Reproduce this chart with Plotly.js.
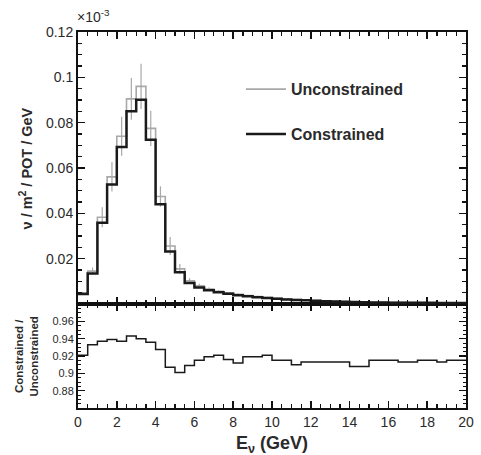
<!DOCTYPE html>
<html>
<head>
<meta charset="utf-8">
<script src="https://cdn.plot.ly/plotly-3.0.1.min.js"></script>
<style>html,body{margin:0;padding:0;background:#fff;}#chart{width:481px;height:455px;}</style>
</head>
<body>
<div id="chart"></div>
<script>
// ---- data ----
const binEdges = [0,0.5,1,1.5,2,2.5,3,3.5,4,4.5,5,5.5,6,6.5,7,7.5,8,8.5,9,9.5,10,
  10.5,11,11.5,12,12.5,13,13.5,14,14.5,15,15.5,16,16.5,17,17.5,18,18.5,19,19.5,20];
const constrained = [0.0044,0.0135,0.0359,0.0527,0.0693,0.0850,0.0901,0.0725,0.0440,0.0232,
  0.0140,0.0093,0.0073,0.0061,0.0052,0.0045,0.0039,0.0034,0.0030,0.0026,
  0.0023,0.0020,0.0018,0.0016,0.0014,0.0012,0.0011,0.0010,0.0009,0.0008,
  0.0007,0.0007,0.0006,0.0006,0.0005,0.0005,0.0005,0.0004,0.0004,0.0004];
const unconstrained = [0.0048,0.0145,0.0383,0.0561,0.0740,0.0905,0.0960,0.0775,0.0474,0.0256,
  0.0155,0.0102,0.0080,0.0066,0.0056,0.0049,0.0043,0.0037,0.0033,0.0028,
  0.0025,0.0022,0.0020,0.0017,0.0015,0.0013,0.0012,0.0011,0.0010,0.0009,
  0.0008,0.0008,0.0007,0.0007,0.0006,0.0006,0.0005,0.0005,0.0005,0.0004];
const unconstrainedErr = [0.0006,0.0016,0.0044,0.0065,0.0086,0.0092,0.0100,0.0078,0.0045,0.0040,
  0.0022,0.0012,0.0009,0.0007,0.0005,0.0004,0.0004,0.0003,0.0003,0.0003,
  0.0002,0.0002,0.0002,0.0002,0.0002,0.0002,0.0001,0.0001,0.0001,0.0001,
  0.0001,0.0001,0.0001,0.0001,0.0001,0.0001,0.0001,0.0001,0.0001,0.0001];
const ratioEdges = [0,0.5,1,1.5,2,2.5,3,3.5,4,4.5,5,5.5,6,6.5,7,7.5,8,8.5,9.5,10,11,11.5,14,15,16.5,17.5,18.5,19,20];
const ratio = [0.921,0.933,0.937,0.939,0.937,0.943,0.940,0.936,0.9275,0.907,
  0.901,0.909,0.915,0.919,0.921,0.916,0.912,0.919,0.921,0.915,
  0.910,0.913,0.908,0.915,0.913,0.915,0.913,0.915];
const xTicks = [0,2,4,6,8,10,12,14,16,18,20];
const yTopTicks = [0.02,0.04,0.06,0.08,0.1,0.12];
const yTopText = ['0.02','0.04','0.06','0.08','0.1','0.12'];
const yBotTicks = [0.88,0.9,0.92,0.94,0.96];
const yBotText = ['0.88','0.9','0.92','0.94','0.96'];

// ---- build step traces ----
function stepY(vals){ return vals.concat([vals[vals.length-1]]); }
const centers = constrained.map((_,i)=> (binEdges[i]+binEdges[i+1])/2);

const FONT = 'Liberation Sans, Arial, Helvetica, sans-serif';
const TXT = '#2a2a2a';

const traces = [
  {x: binEdges, y: stepY(unconstrained), xaxis:'x2', yaxis:'y', mode:'lines',
   line:{shape:'hv', color:'#a8a8a8', width:1.6}, name:'Unconstrained', legendgroup:'u'},
  {x: centers, y: unconstrained, xaxis:'x2', yaxis:'y', mode:'markers',
   marker:{size:0, color:'rgba(0,0,0,0)'}, showlegend:false,
   error_y:{type:'data', array: unconstrainedErr, visible:true, color:'#a8a8a8', thickness:1.2, width:0}},
  {x: binEdges, y: stepY(constrained), xaxis:'x2', yaxis:'y', mode:'lines',
   line:{shape:'hv', color:'#1a1a1a', width:2.5}, name:'Constrained', legendgroup:'c'},
  {x: ratioEdges, y: stepY(ratio), xaxis:'x', yaxis:'y2', mode:'lines',
   line:{shape:'hv', color:'#1a1a1a', width:1.5}, showlegend:false}
];

const split = 104/376;
const axCommon = {showline:true, linecolor:'#111', linewidth:2, mirror:'allticks',
  ticks:'inside', ticklen:7, tickwidth:1.5, tickcolor:'#111',
  showgrid:false, zeroline:false};

const layout = {
  width:481, height:455,
  margin:{l:78, r:15, t:32, b:47, pad:0},
  paper_bgcolor:'#fff', plot_bgcolor:'#fff',
  font:{family:FONT, color:TXT},
  showlegend:true,
  legend:{x:0.42, y:0.893, xanchor:'left', yanchor:'top', bgcolor:'rgba(0,0,0,0)',
    font:{family:FONT, size:16, color:TXT, weight:'bold'}, traceorder:'grouped', tracegroupgap:21,
    itemwidth:40},
  xaxis: Object.assign({}, axCommon, {domain:[0,1], anchor:'y2', range:[0,20],
    tickmode:'array', tickvals:xTicks, ticktext:xTicks.map(String),
    tickfont:{size:14, family:FONT, color:TXT},
    minor:{tickmode:'linear', tick0:0, dtick:0.5, ticks:'inside', ticklen:4, tickwidth:1.2, tickcolor:'#111'}}),
  xaxis2: Object.assign({}, axCommon, {domain:[0,1], anchor:'y', range:[0,20], matches:'x',
    tickmode:'array', tickvals:xTicks, showticklabels:false,
    minor:{tickmode:'linear', tick0:0, dtick:0.5, ticks:'inside', ticklen:4, tickwidth:1.2, tickcolor:'#111'}}),
  yaxis: Object.assign({}, axCommon, {domain:[split,1], anchor:'x2', range:[0,0.12],
    tickmode:'array', tickvals:yTopTicks, ticktext:yTopText,
    tickfont:{size:14, family:FONT, color:TXT},
    minor:{tickmode:'linear', tick0:0, dtick:0.005, ticks:'inside', ticklen:4, tickwidth:1.2, tickcolor:'#111'}}),
  yaxis2: Object.assign({}, axCommon, {domain:[0,split], anchor:'x', range:[0.86,0.98],
    tickmode:'array', tickvals:yBotTicks, ticktext:yBotText,
    tickfont:{size:11, family:FONT, color:TXT},
    minor:{tickmode:'linear', tick0:0.86, dtick:0.005, ticks:'inside', ticklen:3, tickwidth:1, tickcolor:'#111'}}),
  annotations:[
    {xref:'paper', yref:'paper', x:-0.008, y:1.012, xanchor:'left', yanchor:'bottom', showarrow:false,
     text:'×10<sup>-3</sup>', font:{family:FONT, size:14, color:TXT}},
    {xref:'paper', yref:'paper', x:-0.133, y:(split+1)/2, xanchor:'center', yanchor:'middle', showarrow:false,
     textangle:-90, text:'<b>ν / m<sup>2</sup> / POT / GeV</b>', font:{family:FONT, size:14.5, color:TXT}},
    {xref:'paper', yref:'paper', x:-0.135, y:split/2, xanchor:'center', yanchor:'middle', showarrow:false,
     textangle:-90, text:'<b>Constrained /<br>Unconstrained</b>', font:{family:FONT, size:11.5, color:TXT}},
    {xref:'paper', yref:'paper', x:0.5, y:-0.06, xanchor:'center', yanchor:'top', showarrow:false,
     text:'<b>E<sub>ν</sub> (GeV)</b>', font:{family:FONT, size:18, color:TXT}}
  ]
};

Plotly.newPlot('chart', traces, layout, {displayModeBar:false, staticPlot:true});
</script>
</body>
</html>
